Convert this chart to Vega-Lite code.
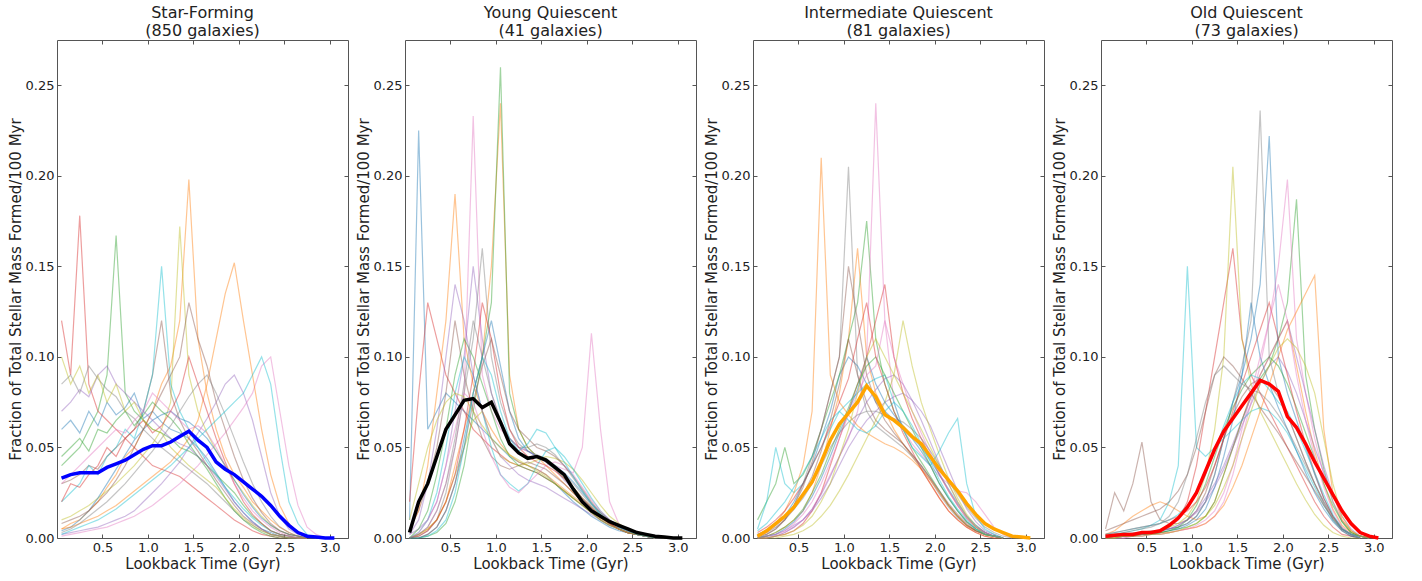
{
"$schema": "https://vega.github.io/schema/vega-lite/v6.json",
"padding": {"left": 7, "top": 4, "right": 4, "bottom": 0},
"bounds": "flush",
"spacing": 57,
"config": {
  "font": "DejaVu Sans",
  "view": {"stroke": "#555", "strokeWidth": 1},
  "axis": {"grid": false, "domain": false, "tickColor": "#555", "tickSize": -4, "labelFontSize": 13, "labelColor": "#222", "titleFontSize": 15, "titleFontWeight": "normal", "titleColor": "#222", "labelPadding": 7, "labelFlush": false, "labelOverlap": false},
  "title": {"fontSize": 16, "fontWeight": "normal", "color": "#222", "offset": 1, "lineHeight": 18},
  "line": {"clip": true}
},
"datasets": {"d": [
{"p":1,"t":0.05,"m":0.033,"a":0.06,"b":0.005,"c":0.04,"d":0.12,"e":0.002,"f":0.03,"g":0.001,"h":0.085,"i":0.01,"j":0.02,"k":0.004,"l":0.005,"n":0.045,"o":0.02,"q":0.07,"r":0.008,"u":0.03,"v":0.003,"w":0.1,"x":0.002},
{"p":1,"t":0.15,"m":0.035,"a":0.065,"b":0.008,"c":0.045,"d":0.09,"e":0.003,"f":0.032,"g":0.002,"h":0.09,"i":0.012,"j":0.025,"k":0.006,"l":0.006,"n":0.05,"o":0.03,"q":0.075,"r":0.01,"u":0.035,"v":0.005,"w":0.085,"x":0.004},
{"p":1,"t":0.25,"m":0.036,"a":0.058,"b":0.01,"c":0.05,"d":0.178,"e":0.004,"f":0.035,"g":0.003,"h":0.08,"i":0.015,"j":0.03,"k":0.01,"l":0.008,"n":0.055,"o":0.028,"q":0.082,"r":0.012,"u":0.04,"v":0.008,"w":0.095,"x":0.006},
{"p":1,"t":0.35,"m":0.036,"a":0.07,"b":0.015,"c":0.06,"d":0.085,"e":0.005,"f":0.04,"g":0.004,"h":0.095,"i":0.018,"j":0.04,"k":0.015,"l":0.01,"n":0.048,"o":0.035,"q":0.078,"r":0.015,"u":0.045,"v":0.012,"w":0.08,"x":0.008},
{"p":1,"t":0.45,"m":0.036,"a":0.062,"b":0.02,"c":0.07,"d":0.07,"e":0.006,"f":0.038,"g":0.005,"h":0.088,"i":0.022,"j":0.035,"k":0.022,"l":0.012,"n":0.06,"o":0.04,"q":0.09,"r":0.02,"u":0.05,"v":0.016,"w":0.09,"x":0.01},
{"p":1,"t":0.55,"m":0.039,"a":0.075,"b":0.028,"c":0.09,"d":0.065,"e":0.008,"f":0.045,"g":0.006,"h":0.082,"i":0.026,"j":0.045,"k":0.03,"l":0.015,"n":0.058,"o":0.05,"q":0.095,"r":0.025,"u":0.055,"v":0.02,"w":0.075,"x":0.013},
{"p":1,"t":0.65,"m":0.041,"a":0.068,"b":0.035,"c":0.167,"d":0.06,"e":0.01,"f":0.05,"g":0.008,"h":0.078,"i":0.03,"j":0.05,"k":0.038,"l":0.018,"n":0.065,"o":0.045,"q":0.085,"r":0.032,"u":0.06,"v":0.025,"w":0.085,"x":0.016},
{"p":1,"t":0.75,"m":0.043,"a":0.072,"b":0.045,"c":0.08,"d":0.055,"e":0.012,"f":0.055,"g":0.01,"h":0.07,"i":0.035,"j":0.06,"k":0.046,"l":0.022,"n":0.07,"o":0.055,"q":0.08,"r":0.04,"u":0.058,"v":0.03,"w":0.07,"x":0.02},
{"p":1,"t":0.85,"m":0.046,"a":0.08,"b":0.05,"c":0.07,"d":0.05,"e":0.015,"f":0.06,"g":0.012,"h":0.066,"i":0.04,"j":0.055,"k":0.054,"l":0.026,"n":0.062,"o":0.06,"q":0.075,"r":0.05,"u":0.065,"v":0.036,"w":0.075,"x":0.024},
{"p":1,"t":0.95,"m":0.049,"a":0.066,"b":0.06,"c":0.065,"d":0.045,"e":0.02,"f":0.07,"g":0.015,"h":0.06,"i":0.046,"j":0.07,"k":0.06,"l":0.03,"n":0.068,"o":0.065,"q":0.07,"r":0.06,"u":0.07,"v":0.042,"w":0.065,"x":0.028},
{"p":1,"t":1.05,"m":0.051,"a":0.07,"b":0.07,"c":0.06,"d":0.04,"e":0.025,"f":0.09,"g":0.018,"h":0.055,"i":0.052,"j":0.09,"k":0.065,"l":0.034,"n":0.075,"o":0.058,"q":0.065,"r":0.07,"u":0.08,"v":0.048,"w":0.06,"x":0.032},
{"p":1,"t":1.15,"m":0.051,"a":0.064,"b":0.085,"c":0.058,"d":0.038,"e":0.03,"f":0.12,"g":0.022,"h":0.05,"i":0.06,"j":0.15,"k":0.068,"l":0.038,"n":0.07,"o":0.062,"q":0.06,"r":0.08,"u":0.075,"v":0.055,"w":0.058,"x":0.036},
{"p":1,"t":1.25,"m":0.053,"a":0.06,"b":0.095,"c":0.055,"d":0.036,"e":0.036,"f":0.08,"g":0.026,"h":0.046,"i":0.075,"j":0.085,"k":0.07,"l":0.042,"n":0.066,"o":0.07,"q":0.055,"r":0.09,"u":0.07,"v":0.062,"w":0.05,"x":0.04},
{"p":1,"t":1.35,"m":0.056,"a":0.058,"b":0.12,"c":0.05,"d":0.034,"e":0.042,"f":0.065,"g":0.03,"h":0.042,"i":0.172,"j":0.07,"k":0.066,"l":0.048,"n":0.06,"o":0.08,"q":0.052,"r":0.1,"u":0.065,"v":0.07,"w":0.045,"x":0.045},
{"p":1,"t":1.45,"m":0.059,"a":0.055,"b":0.198,"c":0.048,"d":0.03,"e":0.05,"f":0.055,"g":0.035,"h":0.038,"i":0.09,"j":0.06,"k":0.064,"l":0.055,"n":0.052,"o":0.1,"q":0.05,"r":0.13,"u":0.06,"v":0.078,"w":0.04,"x":0.05},
{"p":1,"t":1.55,"m":0.054,"a":0.05,"b":0.11,"c":0.045,"d":0.026,"e":0.058,"f":0.048,"g":0.04,"h":0.034,"i":0.07,"j":0.05,"k":0.06,"l":0.065,"n":0.045,"o":0.085,"q":0.045,"r":0.11,"u":0.062,"v":0.085,"w":0.036,"x":0.055},
{"p":1,"t":1.65,"m":0.05,"a":0.044,"b":0.08,"c":0.04,"d":0.022,"e":0.066,"f":0.04,"g":0.046,"h":0.03,"i":0.058,"j":0.042,"k":0.055,"l":0.085,"n":0.038,"o":0.07,"q":0.04,"r":0.095,"u":0.058,"v":0.09,"w":0.032,"x":0.06},
{"p":1,"t":1.75,"m":0.042,"a":0.036,"b":0.06,"c":0.035,"d":0.018,"e":0.075,"f":0.032,"g":0.052,"h":0.025,"i":0.048,"j":0.035,"k":0.048,"l":0.11,"n":0.03,"o":0.055,"q":0.034,"r":0.075,"u":0.05,"v":0.08,"w":0.028,"x":0.065},
{"p":1,"t":1.85,"m":0.038,"a":0.028,"b":0.045,"c":0.03,"d":0.014,"e":0.085,"f":0.025,"g":0.058,"h":0.02,"i":0.04,"j":0.028,"k":0.04,"l":0.135,"n":0.022,"o":0.042,"q":0.027,"r":0.06,"u":0.04,"v":0.068,"w":0.022,"x":0.07},
{"p":1,"t":1.95,"m":0.035,"a":0.02,"b":0.035,"c":0.025,"d":0.01,"e":0.09,"f":0.018,"g":0.065,"h":0.015,"i":0.032,"j":0.022,"k":0.032,"l":0.152,"n":0.015,"o":0.03,"q":0.02,"r":0.045,"u":0.03,"v":0.055,"w":0.016,"x":0.075},
{"p":1,"t":2.05,"m":0.031,"a":0.014,"b":0.028,"c":0.018,"d":0.007,"e":0.08,"f":0.012,"g":0.072,"h":0.01,"i":0.025,"j":0.016,"k":0.024,"l":0.12,"n":0.01,"o":0.02,"q":0.014,"r":0.032,"u":0.022,"v":0.042,"w":0.011,"x":0.08},
{"p":1,"t":2.15,"m":0.027,"a":0.009,"b":0.02,"c":0.012,"d":0.004,"e":0.065,"f":0.008,"g":0.08,"h":0.007,"i":0.018,"j":0.011,"k":0.017,"l":0.09,"n":0.006,"o":0.013,"q":0.009,"r":0.022,"u":0.015,"v":0.03,"w":0.007,"x":0.09},
{"p":1,"t":2.25,"m":0.023,"a":0.005,"b":0.015,"c":0.008,"d":0.002,"e":0.045,"f":0.005,"g":0.095,"h":0.004,"i":0.012,"j":0.007,"k":0.011,"l":0.06,"n":0.003,"o":0.008,"q":0.005,"r":0.014,"u":0.01,"v":0.02,"w":0.004,"x":0.1},
{"p":1,"t":2.35,"m":0.018,"a":0.003,"b":0.01,"c":0.004,"d":0.001,"e":0.025,"f":0.002,"g":0.1,"h":0.002,"i":0.007,"j":0.004,"k":0.007,"l":0.035,"n":0.001,"o":0.004,"q":0.002,"r":0.008,"u":0.006,"v":0.012,"w":0.002,"x":0.085},
{"p":1,"t":2.45,"m":0.012,"a":0.001,"b":0.006,"c":0.002,"d":0,"e":0.012,"f":0.001,"g":0.07,"h":0.001,"i":0.004,"j":0.002,"k":0.004,"l":0.018,"n":0,"o":0.002,"q":0.001,"r":0.004,"u":0.003,"v":0.006,"w":0.001,"x":0.05},
{"p":1,"t":2.55,"m":0.007,"a":0,"b":0.003,"c":0.001,"d":0,"e":0.005,"f":0,"g":0.04,"h":0,"i":0.002,"j":0.001,"k":0.002,"l":0.008,"n":0,"o":0.001,"q":0,"r":0.002,"u":0.001,"v":0.003,"w":0,"x":0.02},
{"p":1,"t":2.65,"m":0.003,"a":0,"b":0.001,"c":0,"d":0,"e":0.002,"f":0,"g":0.018,"h":0,"i":0.001,"j":0,"k":0.001,"l":0.003,"n":0,"o":0,"q":0,"r":0.001,"u":0,"v":0.001,"w":0,"x":0.008},
{"p":1,"t":2.75,"m":0.001,"a":0,"b":0,"c":0,"d":0,"e":0.001,"f":0,"g":0.006,"h":0,"i":0,"j":0,"k":0,"l":0.001,"n":0,"o":0,"q":0,"r":0,"u":0,"v":0,"w":0,"x":0.002},
{"p":1,"t":2.85,"m":0.0005,"e":0,"g":0.002,"l":0,"x":0},
{"p":1,"t":2.95,"m":0,"g":0},
{"p":1,"t":3.05,"m":0},

{"p":2,"t":0.05,"m":0.003,"a":0.01,"b":0,"c":0,"d":0.02,"e":0.002,"f":0.005,"g":0,"h":0,"i":0,"j":0,"k":0,"l":0.005,"n":0,"o":0,"q":0.002,"r":0,"u":0,"v":0,"w":0.01,"x":0},
{"p":2,"t":0.15,"m":0.02,"a":0.225,"b":0.002,"c":0,"d":0.08,"e":0.005,"f":0.015,"g":0.002,"h":0.001,"i":0.002,"j":0.003,"k":0,"l":0.015,"n":0.005,"o":0.001,"q":0.01,"r":0,"u":0.003,"v":0.002,"w":0.03,"x":0},
{"p":2,"t":0.25,"m":0.03,"a":0.06,"b":0.005,"c":0.001,"d":0.13,"e":0.01,"f":0.03,"g":0.006,"h":0.004,"i":0.005,"j":0.01,"k":0.002,"l":0.04,"n":0.015,"o":0.004,"q":0.03,"r":0.002,"u":0.01,"v":0.006,"w":0.05,"x":0.001},
{"p":2,"t":0.35,"m":0.045,"a":0.07,"b":0.01,"c":0.003,"d":0.11,"e":0.02,"f":0.05,"g":0.015,"h":0.01,"i":0.01,"j":0.025,"k":0.006,"l":0.08,"n":0.035,"o":0.01,"q":0.06,"r":0.006,"u":0.02,"v":0.015,"w":0.065,"x":0.004},
{"p":2,"t":0.45,"m":0.06,"a":0.08,"b":0.02,"c":0.008,"d":0.09,"e":0.04,"f":0.08,"g":0.03,"h":0.025,"i":0.02,"j":0.05,"k":0.015,"l":0.12,"n":0.06,"o":0.02,"q":0.1,"r":0.015,"u":0.04,"v":0.03,"w":0.075,"x":0.01},
{"p":2,"t":0.55,"m":0.068,"a":0.075,"b":0.04,"c":0.02,"d":0.08,"e":0.07,"f":0.12,"g":0.05,"h":0.05,"i":0.035,"j":0.08,"k":0.03,"l":0.19,"n":0.09,"o":0.035,"q":0.14,"r":0.03,"u":0.06,"v":0.055,"w":0.08,"x":0.025},
{"p":2,"t":0.65,"m":0.076,"a":0.07,"b":0.06,"c":0.04,"d":0.07,"e":0.1,"f":0.09,"g":0.08,"h":0.08,"i":0.05,"j":0.1,"k":0.055,"l":0.11,"n":0.11,"o":0.06,"q":0.12,"r":0.05,"u":0.08,"v":0.085,"w":0.078,"x":0.05},
{"p":2,"t":0.75,"m":0.077,"a":0.065,"b":0.08,"c":0.07,"d":0.06,"e":0.15,"f":0.07,"g":0.233,"h":0.11,"i":0.065,"j":0.09,"k":0.08,"l":0.085,"n":0.1,"o":0.09,"q":0.09,"r":0.075,"u":0.075,"v":0.12,"w":0.07,"x":0.08},
{"p":2,"t":0.85,"m":0.072,"a":0.06,"b":0.1,"c":0.1,"d":0.055,"e":0.11,"f":0.055,"g":0.09,"h":0.16,"i":0.07,"j":0.07,"k":0.1,"l":0.07,"n":0.085,"o":0.13,"q":0.07,"r":0.095,"u":0.06,"v":0.1,"w":0.062,"x":0.1},
{"p":2,"t":0.95,"m":0.075,"a":0.055,"b":0.15,"c":0.13,"d":0.05,"e":0.08,"f":0.045,"g":0.07,"h":0.1,"i":0.055,"j":0.05,"k":0.12,"l":0.06,"n":0.07,"o":0.11,"q":0.055,"r":0.11,"u":0.045,"v":0.08,"w":0.055,"x":0.09},
{"p":2,"t":1.05,"m":0.064,"a":0.05,"b":0.24,"c":0.26,"d":0.046,"e":0.065,"f":0.04,"g":0.06,"h":0.075,"i":0.045,"j":0.035,"k":0.095,"l":0.052,"n":0.055,"o":0.08,"q":0.045,"r":0.09,"u":0.035,"v":0.065,"w":0.05,"x":0.07},
{"p":2,"t":1.15,"m":0.052,"a":0.045,"b":0.09,"c":0.08,"d":0.042,"e":0.055,"f":0.038,"g":0.055,"h":0.06,"i":0.042,"j":0.03,"k":0.07,"l":0.046,"n":0.045,"o":0.06,"q":0.04,"r":0.07,"u":0.028,"v":0.055,"w":0.046,"x":0.055},
{"p":2,"t":1.25,"m":0.047,"a":0.042,"b":0.06,"c":0.06,"d":0.04,"e":0.05,"f":0.04,"g":0.05,"h":0.052,"i":0.04,"j":0.026,"k":0.055,"l":0.042,"n":0.04,"o":0.05,"q":0.035,"r":0.06,"u":0.025,"v":0.05,"w":0.043,"x":0.048},
{"p":2,"t":1.35,"m":0.044,"a":0.04,"b":0.05,"c":0.05,"d":0.038,"e":0.048,"f":0.042,"g":0.048,"h":0.048,"i":0.041,"j":0.03,"k":0.048,"l":0.04,"n":0.038,"o":0.045,"q":0.032,"r":0.055,"u":0.03,"v":0.05,"w":0.04,"x":0.052},
{"p":2,"t":1.45,"m":0.045,"a":0.038,"b":0.045,"c":0.045,"d":0.036,"e":0.045,"f":0.04,"g":0.045,"h":0.046,"i":0.043,"j":0.04,"k":0.045,"l":0.038,"n":0.036,"o":0.042,"q":0.03,"r":0.05,"u":0.035,"v":0.052,"w":0.037,"x":0.06},
{"p":2,"t":1.55,"m":0.043,"a":0.035,"b":0.04,"c":0.042,"d":0.033,"e":0.042,"f":0.038,"g":0.042,"h":0.044,"i":0.045,"j":0.048,"k":0.043,"l":0.035,"n":0.033,"o":0.04,"q":0.028,"r":0.048,"u":0.04,"v":0.05,"w":0.034,"x":0.058},
{"p":2,"t":1.65,"m":0.039,"a":0.03,"b":0.035,"c":0.038,"d":0.03,"e":0.038,"f":0.034,"g":0.04,"h":0.04,"i":0.044,"j":0.05,"k":0.04,"l":0.031,"n":0.03,"o":0.037,"q":0.025,"r":0.045,"u":0.042,"v":0.046,"w":0.03,"x":0.05},
{"p":2,"t":1.75,"m":0.035,"a":0.025,"b":0.03,"c":0.033,"d":0.026,"e":0.032,"f":0.03,"g":0.038,"h":0.035,"i":0.042,"j":0.045,"k":0.036,"l":0.027,"n":0.026,"o":0.033,"q":0.022,"r":0.04,"u":0.04,"v":0.04,"w":0.026,"x":0.042},
{"p":2,"t":1.85,"m":0.027,"a":0.02,"b":0.025,"c":0.028,"d":0.022,"e":0.027,"f":0.025,"g":0.036,"h":0.03,"i":0.038,"j":0.038,"k":0.031,"l":0.023,"n":0.022,"o":0.028,"q":0.019,"r":0.034,"u":0.035,"v":0.033,"w":0.022,"x":0.034},
{"p":2,"t":1.95,"m":0.02,"a":0.016,"b":0.02,"c":0.022,"d":0.018,"e":0.021,"f":0.02,"g":0.05,"h":0.024,"i":0.032,"j":0.03,"k":0.025,"l":0.019,"n":0.018,"o":0.022,"q":0.016,"r":0.027,"u":0.028,"v":0.026,"w":0.018,"x":0.026},
{"p":2,"t":2.05,"m":0.015,"a":0.012,"b":0.015,"c":0.017,"d":0.014,"e":0.016,"f":0.015,"g":0.113,"h":0.018,"i":0.025,"j":0.022,"k":0.019,"l":0.015,"n":0.014,"o":0.017,"q":0.013,"r":0.02,"u":0.021,"v":0.019,"w":0.014,"x":0.019},
{"p":2,"t":2.15,"m":0.012,"a":0.009,"b":0.011,"c":0.012,"d":0.01,"e":0.012,"f":0.011,"g":0.06,"h":0.013,"i":0.018,"j":0.015,"k":0.014,"l":0.011,"n":0.01,"o":0.012,"q":0.01,"r":0.014,"u":0.015,"v":0.013,"w":0.01,"x":0.013},
{"p":2,"t":2.25,"m":0.009,"a":0.006,"b":0.008,"c":0.008,"d":0.007,"e":0.008,"f":0.008,"g":0.02,"h":0.009,"i":0.012,"j":0.01,"k":0.01,"l":0.008,"n":0.007,"o":0.008,"q":0.007,"r":0.01,"u":0.01,"v":0.009,"w":0.007,"x":0.009},
{"p":2,"t":2.35,"m":0.007,"a":0.004,"b":0.005,"c":0.005,"d":0.005,"e":0.005,"f":0.005,"g":0.008,"h":0.006,"i":0.008,"j":0.006,"k":0.007,"l":0.005,"n":0.005,"o":0.005,"q":0.005,"r":0.006,"u":0.006,"v":0.006,"w":0.005,"x":0.006},
{"p":2,"t":2.45,"m":0.005,"a":0.003,"b":0.003,"c":0.003,"d":0.003,"e":0.003,"f":0.003,"g":0.004,"h":0.004,"i":0.005,"j":0.004,"k":0.004,"l":0.003,"n":0.003,"o":0.003,"q":0.003,"r":0.004,"u":0.004,"v":0.004,"w":0.003,"x":0.004},
{"p":2,"t":2.55,"m":0.003,"a":0.002,"b":0.002,"c":0.002,"d":0.002,"e":0.002,"f":0.002,"g":0.002,"h":0.002,"i":0.003,"j":0.002,"k":0.002,"l":0.002,"n":0.002,"o":0.002,"q":0.002,"r":0.002,"u":0.002,"v":0.002,"w":0.002,"x":0.002},
{"p":2,"t":2.65,"m":0.002,"a":0.001,"b":0.001,"c":0.001,"d":0.001,"e":0.001,"f":0.001,"g":0.001,"h":0.001,"i":0.002,"j":0.001,"k":0.001,"l":0.001,"n":0.001,"o":0.001,"q":0.001,"r":0.001,"u":0.001,"v":0.001,"w":0.001,"x":0.001},
{"p":2,"t":2.75,"m":0.001,"a":0,"b":0,"c":0,"d":0,"e":0,"f":0,"g":0,"h":0,"i":0.001,"j":0,"k":0,"l":0,"n":0,"o":0,"q":0,"r":0,"u":0,"v":0,"w":0,"x":0},
{"p":2,"t":2.85,"m":0.0005,"i":0},
{"p":2,"t":2.95,"m":0},
{"p":2,"t":3.05,"m":0},

{"p":3,"t":0.05,"m":0.001,"a":0.002,"b":0,"c":0.01,"d":0,"e":0,"f":0.001,"g":0,"h":0,"i":0,"j":0.005,"k":0,"l":0.001,"n":0,"o":0.003,"q":0,"r":0.001,"u":0,"v":0.002,"w":0,"x":0.004},
{"p":3,"t":0.15,"m":0.004,"a":0.004,"b":0.001,"c":0.02,"d":0,"e":0.001,"f":0.003,"g":0,"h":0.002,"i":0,"j":0.02,"k":0.001,"l":0.003,"n":0.001,"o":0.006,"q":0,"r":0.002,"u":0.001,"v":0.004,"w":0,"x":0.008},
{"p":3,"t":0.25,"m":0.008,"a":0.008,"b":0.003,"c":0.03,"d":0.001,"e":0.002,"f":0.006,"g":0.001,"h":0.005,"i":0,"j":0.05,"k":0.002,"l":0.008,"n":0.003,"o":0.01,"q":0.001,"r":0.005,"u":0.002,"v":0.007,"w":0.001,"x":0.014},
{"p":3,"t":0.35,"m":0.012,"a":0.012,"b":0.006,"c":0.05,"d":0.002,"e":0.004,"f":0.01,"g":0.003,"h":0.01,"i":0.001,"j":0.03,"k":0.005,"l":0.015,"n":0.006,"o":0.015,"q":0.003,"r":0.01,"u":0.004,"v":0.011,"w":0.002,"x":0.02},
{"p":3,"t":0.45,"m":0.017,"a":0.02,"b":0.01,"c":0.03,"d":0.004,"e":0.007,"f":0.016,"g":0.006,"h":0.018,"i":0.002,"j":0.025,"k":0.009,"l":0.025,"n":0.01,"o":0.022,"q":0.006,"r":0.018,"u":0.008,"v":0.016,"w":0.004,"x":0.028},
{"p":3,"t":0.55,"m":0.024,"a":0.03,"b":0.015,"c":0.035,"d":0.008,"e":0.01,"f":0.024,"g":0.01,"h":0.03,"i":0.004,"j":0.03,"k":0.015,"l":0.04,"n":0.016,"o":0.03,"q":0.01,"r":0.028,"u":0.013,"v":0.022,"w":0.007,"x":0.036},
{"p":3,"t":0.65,"m":0.031,"a":0.04,"b":0.025,"c":0.045,"d":0.015,"e":0.015,"f":0.034,"g":0.016,"h":0.045,"i":0.007,"j":0.04,"k":0.023,"l":0.07,"n":0.025,"o":0.04,"q":0.016,"r":0.042,"u":0.02,"v":0.03,"w":0.012,"x":0.045},
{"p":3,"t":0.75,"m":0.042,"a":0.055,"b":0.04,"c":0.06,"d":0.025,"e":0.022,"f":0.048,"g":0.025,"h":0.06,"i":0.012,"j":0.05,"k":0.033,"l":0.21,"n":0.035,"o":0.05,"q":0.024,"r":0.06,"u":0.03,"v":0.04,"w":0.02,"x":0.055},
{"p":3,"t":0.85,"m":0.054,"a":0.07,"b":0.06,"c":0.075,"d":0.04,"e":0.03,"f":0.065,"g":0.035,"h":0.08,"i":0.018,"j":0.06,"k":0.045,"l":0.09,"n":0.048,"o":0.062,"q":0.034,"r":0.08,"u":0.042,"v":0.05,"w":0.03,"x":0.065},
{"p":3,"t":0.95,"m":0.063,"a":0.09,"b":0.08,"c":0.09,"d":0.055,"e":0.04,"f":0.085,"g":0.045,"h":0.1,"i":0.026,"j":0.07,"k":0.058,"l":0.075,"n":0.06,"o":0.075,"q":0.045,"r":0.1,"u":0.055,"v":0.058,"w":0.045,"x":0.07},
{"p":3,"t":1.05,"m":0.069,"a":0.1,"b":0.11,"c":0.11,"d":0.07,"e":0.05,"f":0.11,"g":0.055,"h":0.205,"i":0.035,"j":0.075,"k":0.07,"l":0.068,"n":0.072,"o":0.088,"q":0.056,"r":0.15,"u":0.068,"v":0.064,"w":0.06,"x":0.065},
{"p":3,"t":1.15,"m":0.075,"a":0.095,"b":0.16,"c":0.13,"d":0.085,"e":0.058,"f":0.09,"g":0.07,"h":0.09,"i":0.045,"j":0.08,"k":0.082,"l":0.062,"n":0.085,"o":0.11,"q":0.066,"r":0.12,"u":0.08,"v":0.068,"w":0.08,"x":0.06},
{"p":3,"t":1.25,"m":0.084,"a":0.085,"b":0.1,"c":0.175,"d":0.1,"e":0.065,"f":0.075,"g":0.1,"h":0.07,"i":0.055,"j":0.085,"k":0.1,"l":0.058,"n":0.095,"o":0.13,"q":0.075,"r":0.09,"u":0.09,"v":0.07,"w":0.1,"x":0.058},
{"p":3,"t":1.35,"m":0.078,"a":0.075,"b":0.08,"c":0.11,"d":0.12,"e":0.07,"f":0.065,"g":0.24,"h":0.062,"i":0.065,"j":0.088,"k":0.085,"l":0.055,"n":0.1,"o":0.1,"q":0.082,"r":0.075,"u":0.095,"v":0.07,"w":0.11,"x":0.062},
{"p":3,"t":1.45,"m":0.068,"a":0.07,"b":0.07,"c":0.085,"d":0.14,"e":0.075,"f":0.06,"g":0.12,"h":0.058,"i":0.075,"j":0.09,"k":0.075,"l":0.052,"n":0.09,"o":0.085,"q":0.088,"r":0.065,"u":0.12,"v":0.068,"w":0.1,"x":0.07},
{"p":3,"t":1.55,"m":0.065,"a":0.065,"b":0.06,"c":0.07,"d":0.1,"e":0.078,"f":0.056,"g":0.075,"h":0.054,"i":0.09,"j":0.075,"k":0.068,"l":0.05,"n":0.08,"o":0.07,"q":0.09,"r":0.058,"u":0.1,"v":0.066,"w":0.09,"x":0.075},
{"p":3,"t":1.65,"m":0.061,"a":0.06,"b":0.052,"c":0.06,"d":0.08,"e":0.08,"f":0.052,"g":0.06,"h":0.05,"i":0.12,"j":0.06,"k":0.062,"l":0.047,"n":0.07,"o":0.058,"q":0.085,"r":0.052,"u":0.085,"v":0.064,"w":0.08,"x":0.07},
{"p":3,"t":1.75,"m":0.056,"a":0.055,"b":0.045,"c":0.05,"d":0.066,"e":0.076,"f":0.046,"g":0.052,"h":0.045,"i":0.095,"j":0.05,"k":0.056,"l":0.043,"n":0.06,"o":0.048,"q":0.076,"r":0.046,"u":0.07,"v":0.06,"w":0.07,"x":0.062},
{"p":3,"t":1.85,"m":0.052,"a":0.048,"b":0.038,"c":0.042,"d":0.055,"e":0.07,"f":0.04,"g":0.046,"h":0.039,"i":0.075,"j":0.045,"k":0.05,"l":0.038,"n":0.05,"o":0.038,"q":0.065,"r":0.04,"u":0.058,"v":0.055,"w":0.06,"x":0.052},
{"p":3,"t":1.95,"m":0.045,"a":0.04,"b":0.03,"c":0.034,"d":0.045,"e":0.062,"f":0.033,"g":0.04,"h":0.032,"i":0.06,"j":0.04,"k":0.043,"l":0.032,"n":0.04,"o":0.03,"q":0.053,"r":0.033,"u":0.047,"v":0.048,"w":0.05,"x":0.042},
{"p":3,"t":2.05,"m":0.038,"a":0.03,"b":0.022,"c":0.026,"d":0.035,"e":0.05,"f":0.025,"g":0.034,"h":0.024,"i":0.046,"j":0.048,"k":0.035,"l":0.025,"n":0.03,"o":0.022,"q":0.041,"r":0.026,"u":0.036,"v":0.04,"w":0.04,"x":0.032},
{"p":3,"t":2.15,"m":0.032,"a":0.022,"b":0.015,"c":0.018,"d":0.026,"e":0.038,"f":0.018,"g":0.03,"h":0.017,"i":0.033,"j":0.058,"k":0.027,"l":0.018,"n":0.022,"o":0.015,"q":0.03,"r":0.019,"u":0.026,"v":0.032,"w":0.03,"x":0.023},
{"p":3,"t":2.25,"m":0.026,"a":0.015,"b":0.01,"c":0.012,"d":0.018,"e":0.026,"f":0.012,"g":0.026,"h":0.011,"i":0.022,"j":0.066,"k":0.019,"l":0.012,"n":0.015,"o":0.01,"q":0.02,"r":0.013,"u":0.018,"v":0.024,"w":0.02,"x":0.016},
{"p":3,"t":2.35,"m":0.019,"a":0.009,"b":0.006,"c":0.007,"d":0.011,"e":0.016,"f":0.007,"g":0.025,"h":0.007,"i":0.013,"j":0.03,"k":0.012,"l":0.007,"n":0.009,"o":0.006,"q":0.012,"r":0.008,"u":0.011,"v":0.017,"w":0.012,"x":0.01},
{"p":3,"t":2.45,"m":0.013,"a":0.005,"b":0.003,"c":0.004,"d":0.006,"e":0.009,"f":0.004,"g":0.02,"h":0.004,"i":0.007,"j":0.012,"k":0.007,"l":0.004,"n":0.005,"o":0.003,"q":0.006,"r":0.004,"u":0.006,"v":0.011,"w":0.006,"x":0.005},
{"p":3,"t":2.55,"m":0.008,"a":0.003,"b":0.001,"c":0.002,"d":0.003,"e":0.004,"f":0.002,"g":0.013,"h":0.002,"i":0.003,"j":0.005,"k":0.003,"l":0.002,"n":0.002,"o":0.001,"q":0.003,"r":0.002,"u":0.003,"v":0.006,"w":0.002,"x":0.002},
{"p":3,"t":2.65,"m":0.005,"a":0.001,"b":0,"c":0.001,"d":0.001,"e":0.002,"f":0.001,"g":0.006,"h":0.001,"i":0.001,"j":0.002,"k":0.001,"l":0.001,"n":0.001,"o":0,"q":0.001,"r":0.001,"u":0.001,"v":0.003,"w":0.001,"x":0.001},
{"p":3,"t":2.75,"m":0.003,"a":0,"b":0,"c":0,"d":0,"e":0,"f":0,"g":0.002,"h":0,"i":0,"j":0,"k":0,"l":0,"n":0,"o":0,"q":0,"r":0,"u":0,"v":0.001,"w":0,"x":0},
{"p":3,"t":2.85,"m":0.001,"g":0,"v":0},
{"p":3,"t":2.95,"m":0.0005},
{"p":3,"t":3.05,"m":0},

{"p":4,"t":0.05,"m":0.001,"a":0.001,"b":0.002,"c":0,"d":0,"e":0.001,"f":0.005,"g":0,"h":0.001,"i":0,"j":0.001,"k":0,"l":0,"n":0,"o":0.002,"q":0,"r":0.004,"u":0,"v":0.001,"w":0,"x":0.002},
{"p":4,"t":0.15,"m":0.0015,"a":0.001,"b":0.004,"c":0,"d":0.001,"e":0.001,"f":0.025,"g":0,"h":0.002,"i":0.001,"j":0.002,"k":0.001,"l":0,"n":0,"o":0.003,"q":0.001,"r":0.006,"u":0,"v":0.002,"w":0,"x":0.003},
{"p":4,"t":0.25,"m":0.002,"a":0.002,"b":0.008,"c":0.001,"d":0.001,"e":0.002,"f":0.015,"g":0,"h":0.002,"i":0.001,"j":0.003,"k":0.001,"l":0.001,"n":0.001,"o":0.004,"q":0.001,"r":0.008,"u":0,"v":0.003,"w":0.001,"x":0.004},
{"p":4,"t":0.35,"m":0.002,"a":0.002,"b":0.012,"c":0.001,"d":0.002,"e":0.002,"f":0.03,"g":0.001,"h":0.003,"i":0.002,"j":0.004,"k":0.001,"l":0.001,"n":0.001,"o":0.005,"q":0.002,"r":0.01,"u":0.001,"v":0.004,"w":0.001,"x":0.005},
{"p":4,"t":0.45,"m":0.003,"a":0.003,"b":0.015,"c":0.002,"d":0.002,"e":0.003,"f":0.053,"g":0.001,"h":0.003,"i":0.002,"j":0.005,"k":0.002,"l":0.002,"n":0.002,"o":0.006,"q":0.002,"r":0.012,"u":0.001,"v":0.005,"w":0.001,"x":0.006},
{"p":4,"t":0.55,"m":0.003,"a":0.003,"b":0.018,"c":0.002,"d":0.003,"e":0.003,"f":0.02,"g":0.002,"h":0.004,"i":0.003,"j":0.007,"k":0.002,"l":0.002,"n":0.002,"o":0.007,"q":0.003,"r":0.014,"u":0.002,"v":0.006,"w":0.002,"x":0.007},
{"p":4,"t":0.65,"m":0.004,"a":0.004,"b":0.02,"c":0.003,"d":0.004,"e":0.004,"f":0.01,"g":0.002,"h":0.004,"i":0.004,"j":0.01,"k":0.003,"l":0.003,"n":0.003,"o":0.008,"q":0.004,"r":0.016,"u":0.002,"v":0.008,"w":0.002,"x":0.008},
{"p":4,"t":0.75,"m":0.007,"a":0.005,"b":0.018,"c":0.004,"d":0.006,"e":0.005,"f":0.008,"g":0.003,"h":0.005,"i":0.006,"j":0.02,"k":0.004,"l":0.003,"n":0.004,"o":0.01,"q":0.005,"r":0.02,"u":0.003,"v":0.012,"w":0.003,"x":0.01},
{"p":4,"t":0.85,"m":0.011,"a":0.006,"b":0.015,"c":0.005,"d":0.01,"e":0.007,"f":0.008,"g":0.004,"h":0.006,"i":0.008,"j":0.04,"k":0.005,"l":0.004,"n":0.006,"o":0.012,"q":0.007,"r":0.026,"u":0.004,"v":0.02,"w":0.004,"x":0.013},
{"p":4,"t":0.95,"m":0.017,"a":0.008,"b":0.012,"c":0.006,"d":0.02,"e":0.01,"f":0.01,"g":0.005,"h":0.008,"i":0.012,"j":0.15,"k":0.007,"l":0.005,"n":0.01,"o":0.015,"q":0.01,"r":0.035,"u":0.005,"v":0.035,"w":0.006,"x":0.018},
{"p":4,"t":1.05,"m":0.025,"a":0.012,"b":0.01,"c":0.008,"d":0.04,"e":0.014,"f":0.015,"g":0.006,"h":0.012,"i":0.02,"j":0.05,"k":0.01,"l":0.006,"n":0.018,"o":0.02,"q":0.015,"r":0.05,"u":0.007,"v":0.055,"w":0.008,"x":0.025},
{"p":4,"t":1.15,"m":0.037,"a":0.02,"b":0.012,"c":0.012,"d":0.07,"e":0.02,"f":0.025,"g":0.008,"h":0.02,"i":0.035,"j":0.045,"k":0.016,"l":0.008,"n":0.03,"o":0.028,"q":0.022,"r":0.07,"u":0.01,"v":0.075,"w":0.012,"x":0.035},
{"p":4,"t":1.25,"m":0.049,"a":0.035,"b":0.02,"c":0.02,"d":0.1,"e":0.028,"f":0.04,"g":0.012,"h":0.035,"i":0.06,"j":0.05,"k":0.028,"l":0.012,"n":0.045,"o":0.04,"q":0.03,"r":0.09,"u":0.015,"v":0.09,"w":0.018,"x":0.048},
{"p":4,"t":1.35,"m":0.059,"a":0.055,"b":0.035,"c":0.035,"d":0.13,"e":0.038,"f":0.055,"g":0.02,"h":0.055,"i":0.1,"j":0.055,"k":0.045,"l":0.018,"n":0.06,"o":0.055,"q":0.04,"r":0.1,"u":0.025,"v":0.095,"w":0.028,"x":0.062},
{"p":4,"t":1.45,"m":0.066,"a":0.075,"b":0.05,"c":0.05,"d":0.16,"e":0.05,"f":0.068,"g":0.035,"h":0.075,"i":0.205,"j":0.06,"k":0.065,"l":0.028,"n":0.072,"o":0.07,"q":0.052,"r":0.095,"u":0.04,"v":0.09,"w":0.04,"x":0.075},
{"p":4,"t":1.55,"m":0.073,"a":0.09,"b":0.065,"c":0.065,"d":0.11,"e":0.062,"f":0.078,"g":0.055,"h":0.095,"i":0.11,"j":0.065,"k":0.09,"l":0.04,"n":0.082,"o":0.085,"q":0.065,"r":0.088,"u":0.06,"v":0.085,"w":0.055,"x":0.085},
{"p":4,"t":1.65,"m":0.08,"a":0.11,"b":0.08,"c":0.078,"d":0.09,"e":0.074,"f":0.085,"g":0.075,"h":0.12,"i":0.085,"j":0.07,"k":0.13,"l":0.055,"n":0.09,"o":0.1,"q":0.078,"r":0.08,"u":0.08,"v":0.082,"w":0.07,"x":0.09},
{"p":4,"t":1.75,"m":0.087,"a":0.14,"b":0.09,"c":0.088,"d":0.08,"e":0.085,"f":0.088,"g":0.095,"h":0.236,"i":0.07,"j":0.072,"k":0.1,"l":0.07,"n":0.095,"o":0.115,"q":0.09,"r":0.072,"u":0.1,"v":0.08,"w":0.085,"x":0.088},
{"p":4,"t":1.85,"m":0.085,"a":0.222,"b":0.1,"c":0.095,"d":0.07,"e":0.095,"f":0.085,"g":0.12,"h":0.1,"i":0.06,"j":0.07,"k":0.085,"l":0.085,"n":0.1,"o":0.13,"q":0.1,"r":0.065,"u":0.12,"v":0.075,"w":0.095,"x":0.082},
{"p":4,"t":1.95,"m":0.081,"a":0.1,"b":0.11,"c":0.11,"d":0.06,"e":0.1,"f":0.078,"g":0.15,"h":0.08,"i":0.05,"j":0.065,"k":0.072,"l":0.1,"n":0.095,"o":0.11,"q":0.11,"r":0.058,"u":0.14,"v":0.068,"w":0.105,"x":0.075},
{"p":4,"t":2.05,"m":0.067,"a":0.08,"b":0.12,"c":0.13,"d":0.05,"e":0.092,"f":0.068,"g":0.198,"h":0.068,"i":0.04,"j":0.058,"k":0.06,"l":0.115,"n":0.085,"o":0.09,"q":0.12,"r":0.05,"u":0.12,"v":0.06,"w":0.11,"x":0.07},
{"p":4,"t":2.15,"m":0.061,"a":0.065,"b":0.095,"c":0.187,"d":0.04,"e":0.08,"f":0.055,"g":0.11,"h":0.055,"i":0.03,"j":0.048,"k":0.048,"l":0.125,"n":0.072,"o":0.07,"q":0.1,"r":0.042,"u":0.09,"v":0.05,"w":0.105,"x":0.06},
{"p":4,"t":2.25,"m":0.052,"a":0.05,"b":0.07,"c":0.09,"d":0.03,"e":0.065,"f":0.042,"g":0.08,"h":0.042,"i":0.021,"j":0.038,"k":0.036,"l":0.135,"n":0.058,"o":0.052,"q":0.08,"r":0.034,"u":0.065,"v":0.04,"w":0.095,"x":0.048},
{"p":4,"t":2.35,"m":0.042,"a":0.035,"b":0.048,"c":0.06,"d":0.02,"e":0.05,"f":0.03,"g":0.055,"h":0.03,"i":0.013,"j":0.028,"k":0.025,"l":0.145,"n":0.044,"o":0.036,"q":0.06,"r":0.026,"u":0.045,"v":0.03,"w":0.08,"x":0.036},
{"p":4,"t":2.45,"m":0.033,"a":0.022,"b":0.03,"c":0.038,"d":0.012,"e":0.036,"f":0.019,"g":0.035,"h":0.02,"i":0.007,"j":0.018,"k":0.016,"l":0.06,"n":0.03,"o":0.022,"q":0.04,"r":0.018,"u":0.028,"v":0.02,"w":0.055,"x":0.024},
{"p":4,"t":2.55,"m":0.024,"a":0.012,"b":0.016,"c":0.02,"d":0.006,"e":0.024,"f":0.01,"g":0.02,"h":0.012,"i":0.003,"j":0.01,"k":0.009,"l":0.025,"n":0.018,"o":0.012,"q":0.024,"r":0.011,"u":0.015,"v":0.011,"w":0.03,"x":0.013},
{"p":4,"t":2.65,"m":0.015,"a":0.005,"b":0.007,"c":0.009,"d":0.002,"e":0.014,"f":0.004,"g":0.01,"h":0.006,"i":0.001,"j":0.005,"k":0.004,"l":0.01,"n":0.009,"o":0.005,"q":0.012,"r":0.005,"u":0.006,"v":0.005,"w":0.012,"x":0.005},
{"p":4,"t":2.75,"m":0.008,"a":0.002,"b":0.003,"c":0.003,"d":0.001,"e":0.007,"f":0.001,"g":0.004,"h":0.002,"i":0,"j":0.002,"k":0.001,"l":0.004,"n":0.003,"o":0.002,"q":0.005,"r":0.002,"u":0.002,"v":0.002,"w":0.004,"x":0.002},
{"p":4,"t":2.85,"m":0.003,"a":0.001,"b":0.001,"c":0.001,"d":0,"e":0.003,"f":0,"g":0.001,"h":0.001,"i":0,"j":0.001,"k":0,"l":0.001,"n":0.001,"o":0,"q":0.001,"r":0,"u":0,"v":0,"w":0.001,"x":0},
{"p":4,"t":2.95,"m":0.001,"a":0,"b":0,"c":0,"e":0.001,"g":0,"h":0,"j":0,"l":0,"n":0,"q":0,"w":0},
{"p":4,"t":3.05,"m":0}
]},
"hconcat": [
{
 "width": 291, "height": 498,
 "title": {"text": ["Star-Forming", "\u00a0(850 galaxies)"]},
 "data": {"name": "d"},
 "transform": [{"filter": "datum.p == 1"}],
 "layer": [
  {"transform": [{"fold": ["a","b","c","d","e","f","g","h","i","j","k","l","n","o","q","r","u","v","w","x"], "as": ["series","val"]}],
   "mark": {"type": "line", "strokeWidth": 1.2, "opacity": 0.45},
   "encoding": {
    "x": {"field": "t", "type": "quantitative", "scale": {"domain": [0, 3.2], "nice": false}, "axis": {"values": [0.5,1,1.5,2,2.5,3], "format": ".1f", "title": "Lookback Time (Gyr)", "titlePadding": 2}},
    "y": {"field": "val", "type": "quantitative", "scale": {"domain": [0, 0.275], "nice": false}, "axis": {"values": [0,0.05,0.1,0.15,0.2,0.25], "format": ".2f", "title": "Fraction of Total Stellar Mass Formed/100 Myr", "titlePadding": 2}},
    "color": {"field": "series", "type": "nominal", "legend": null, "scale": {"domain": ["a","b","c","d","e","f","g","h","i","j","k","l","n","o","q","r","u","v","w","x"], "range": ["#1f77b4","#ff7f0e","#2ca02c","#d62728","#9467bd","#8c564b","#e377c2","#7f7f7f","#bcbd22","#17becf","#1f77b4","#ff7f0e","#2ca02c","#d62728","#9467bd","#8c564b","#e377c2","#7f7f7f","#bcbd22","#17becf"]}}
   }},
  {"mark": {"type": "line", "strokeWidth": 3.5, "color": "#0000ff"},
   "encoding": {
    "x": {"field": "t", "type": "quantitative", "axis": {"orient": "top", "values": [0.5,1,1.5,2,2.5,3], "labels": false, "title": null}},
    "y": {"field": "m", "type": "quantitative", "axis": {"orient": "right", "values": [0,0.05,0.1,0.15,0.2,0.25], "labels": false, "title": null}}
   }}
 ],
 "resolve": {"axis": {"x": "independent", "y": "independent"}}
},
{
 "width": 291, "height": 498,
 "title": {"text": ["Young Quiescent", "\u00a0(41 galaxies)"]},
 "data": {"name": "d"},
 "transform": [{"filter": "datum.p == 2"}],
 "layer": [
  {"transform": [{"fold": ["a","b","c","d","e","f","g","h","i","j","k","l","n","o","q","r","u","v","w","x"], "as": ["series","val"]}],
   "mark": {"type": "line", "strokeWidth": 1.2, "opacity": 0.45},
   "encoding": {
    "x": {"field": "t", "type": "quantitative", "scale": {"domain": [0, 3.2], "nice": false}, "axis": {"values": [0.5,1,1.5,2,2.5,3], "format": ".1f", "title": "Lookback Time (Gyr)", "titlePadding": 2}},
    "y": {"field": "val", "type": "quantitative", "scale": {"domain": [0, 0.275], "nice": false}, "axis": {"values": [0,0.05,0.1,0.15,0.2,0.25], "format": ".2f", "title": "Fraction of Total Stellar Mass Formed/100 Myr", "titlePadding": 2}},
    "color": {"field": "series", "type": "nominal", "legend": null, "scale": {"domain": ["a","b","c","d","e","f","g","h","i","j","k","l","n","o","q","r","u","v","w","x"], "range": ["#1f77b4","#ff7f0e","#2ca02c","#d62728","#9467bd","#8c564b","#e377c2","#7f7f7f","#bcbd22","#17becf","#1f77b4","#ff7f0e","#2ca02c","#d62728","#9467bd","#8c564b","#e377c2","#7f7f7f","#bcbd22","#17becf"]}}
   }},
  {"mark": {"type": "line", "strokeWidth": 3.5, "color": "#000000"},
   "encoding": {
    "x": {"field": "t", "type": "quantitative", "axis": {"orient": "top", "values": [0.5,1,1.5,2,2.5,3], "labels": false, "title": null}},
    "y": {"field": "m", "type": "quantitative", "axis": {"orient": "right", "values": [0,0.05,0.1,0.15,0.2,0.25], "labels": false, "title": null}}
   }}
 ],
 "resolve": {"axis": {"x": "independent", "y": "independent"}}
},
{
 "width": 291, "height": 498,
 "title": {"text": ["Intermediate Quiescent", "\u00a0(81 galaxies)"]},
 "data": {"name": "d"},
 "transform": [{"filter": "datum.p == 3"}],
 "layer": [
  {"transform": [{"fold": ["a","b","c","d","e","f","g","h","i","j","k","l","n","o","q","r","u","v","w","x"], "as": ["series","val"]}],
   "mark": {"type": "line", "strokeWidth": 1.2, "opacity": 0.45},
   "encoding": {
    "x": {"field": "t", "type": "quantitative", "scale": {"domain": [0, 3.2], "nice": false}, "axis": {"values": [0.5,1,1.5,2,2.5,3], "format": ".1f", "title": "Lookback Time (Gyr)", "titlePadding": 2}},
    "y": {"field": "val", "type": "quantitative", "scale": {"domain": [0, 0.275], "nice": false}, "axis": {"values": [0,0.05,0.1,0.15,0.2,0.25], "format": ".2f", "title": "Fraction of Total Stellar Mass Formed/100 Myr", "titlePadding": 2}},
    "color": {"field": "series", "type": "nominal", "legend": null, "scale": {"domain": ["a","b","c","d","e","f","g","h","i","j","k","l","n","o","q","r","u","v","w","x"], "range": ["#1f77b4","#ff7f0e","#2ca02c","#d62728","#9467bd","#8c564b","#e377c2","#7f7f7f","#bcbd22","#17becf","#1f77b4","#ff7f0e","#2ca02c","#d62728","#9467bd","#8c564b","#e377c2","#7f7f7f","#bcbd22","#17becf"]}}
   }},
  {"mark": {"type": "line", "strokeWidth": 3.5, "color": "#ffa500"},
   "encoding": {
    "x": {"field": "t", "type": "quantitative", "axis": {"orient": "top", "values": [0.5,1,1.5,2,2.5,3], "labels": false, "title": null}},
    "y": {"field": "m", "type": "quantitative", "axis": {"orient": "right", "values": [0,0.05,0.1,0.15,0.2,0.25], "labels": false, "title": null}}
   }}
 ],
 "resolve": {"axis": {"x": "independent", "y": "independent"}}
},
{
 "width": 291, "height": 498,
 "title": {"text": ["Old Quiescent", "\u00a0(73 galaxies)"]},
 "data": {"name": "d"},
 "transform": [{"filter": "datum.p == 4"}],
 "layer": [
  {"transform": [{"fold": ["a","b","c","d","e","f","g","h","i","j","k","l","n","o","q","r","u","v","w","x"], "as": ["series","val"]}],
   "mark": {"type": "line", "strokeWidth": 1.2, "opacity": 0.45},
   "encoding": {
    "x": {"field": "t", "type": "quantitative", "scale": {"domain": [0, 3.2], "nice": false}, "axis": {"values": [0.5,1,1.5,2,2.5,3], "format": ".1f", "title": "Lookback Time (Gyr)", "titlePadding": 2}},
    "y": {"field": "val", "type": "quantitative", "scale": {"domain": [0, 0.275], "nice": false}, "axis": {"values": [0,0.05,0.1,0.15,0.2,0.25], "format": ".2f", "title": "Fraction of Total Stellar Mass Formed/100 Myr", "titlePadding": 2}},
    "color": {"field": "series", "type": "nominal", "legend": null, "scale": {"domain": ["a","b","c","d","e","f","g","h","i","j","k","l","n","o","q","r","u","v","w","x"], "range": ["#1f77b4","#ff7f0e","#2ca02c","#d62728","#9467bd","#8c564b","#e377c2","#7f7f7f","#bcbd22","#17becf","#1f77b4","#ff7f0e","#2ca02c","#d62728","#9467bd","#8c564b","#e377c2","#7f7f7f","#bcbd22","#17becf"]}}
   }},
  {"mark": {"type": "line", "strokeWidth": 3.5, "color": "#ff0000"},
   "encoding": {
    "x": {"field": "t", "type": "quantitative", "axis": {"orient": "top", "values": [0.5,1,1.5,2,2.5,3], "labels": false, "title": null}},
    "y": {"field": "m", "type": "quantitative", "axis": {"orient": "right", "values": [0,0.05,0.1,0.15,0.2,0.25], "labels": false, "title": null}}
   }}
 ],
 "resolve": {"axis": {"x": "independent", "y": "independent"}}
}
]
}
